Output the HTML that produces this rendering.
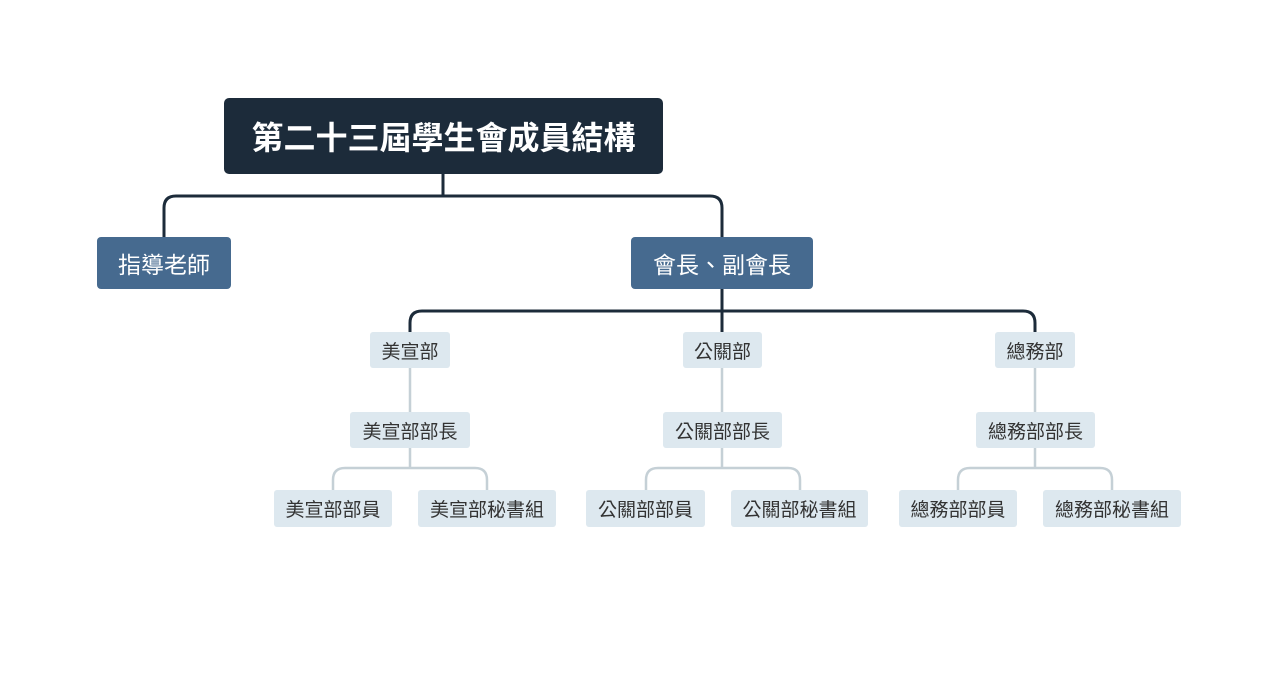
<!DOCTYPE html>
<html><head><meta charset="utf-8"><style>
body{margin:0;width:1280px;height:675px;background:#fff;position:relative;overflow:hidden;font-family:"Liberation Sans","Noto Sans CJK TC",sans-serif}
.n{position:absolute;display:flex;align-items:center;justify-content:center;box-sizing:border-box;white-space:nowrap}
.r{background:#1c2b3a;color:#fff;font-weight:bold;font-size:32px;border-radius:5px}
.m{background:#466a8f;color:#fff;font-size:23px;border-radius:4px}
.s{background:#dde8ef;color:#333;font-size:19px;border-radius:3px}
svg{position:absolute;left:0;top:0}
</style></head><body>
<svg width="1280" height="675" fill="none">
<g stroke="#1c2b3a" stroke-width="3">
<path d="M443 174V196M164 237V208Q164 196 176 196H710Q722 196 722 208V237"/>
<path d="M722 289V332M410 332V323Q410 311 422 311H1023Q1035 311 1035 323V332"/>
</g>
<g stroke="#c5d0d6" stroke-width="2.5">
<path d="M410 368V412M410 448V468M333 490V480Q333 468 345 468H475Q487 468 487 480V490"/>
<path d="M722 368V412M722 448V468M646 490V480Q646 468 658 468H788Q800 468 800 480V490"/>
<path d="M1035 368V412M1035 448V468M958 490V480Q958 468 970 468H1100Q1112 468 1112 480V490"/>
</g>
</svg>
<div class="n r" style="left:224px;top:98px;width:439px;height:76px">第二十三屆學生會成員結構</div>
<div class="n m" style="left:97px;top:237px;width:134px;height:52px">指導老師</div>
<div class="n m" style="left:631px;top:237px;width:182px;height:52px">會長、副會長</div>
<div class="n s" style="left:370px;top:332px;width:80px;height:36px">美宣部</div>
<div class="n s" style="left:683px;top:332px;width:79px;height:36px">公關部</div>
<div class="n s" style="left:995px;top:332px;width:80px;height:36px">總務部</div>
<div class="n s" style="left:350px;top:412px;width:120px;height:36px">美宣部部長</div>
<div class="n s" style="left:663px;top:412px;width:119px;height:36px">公關部部長</div>
<div class="n s" style="left:976px;top:412px;width:119px;height:36px">總務部部長</div>
<div class="n s" style="left:274px;top:490px;width:118px;height:37px">美宣部部員</div>
<div class="n s" style="left:418px;top:490px;width:138px;height:37px">美宣部秘書組</div>
<div class="n s" style="left:586px;top:490px;width:119px;height:37px">公關部部員</div>
<div class="n s" style="left:731px;top:490px;width:137px;height:37px">公關部秘書組</div>
<div class="n s" style="left:899px;top:490px;width:118px;height:37px">總務部部員</div>
<div class="n s" style="left:1043px;top:490px;width:138px;height:37px">總務部秘書組</div>
</body></html>
